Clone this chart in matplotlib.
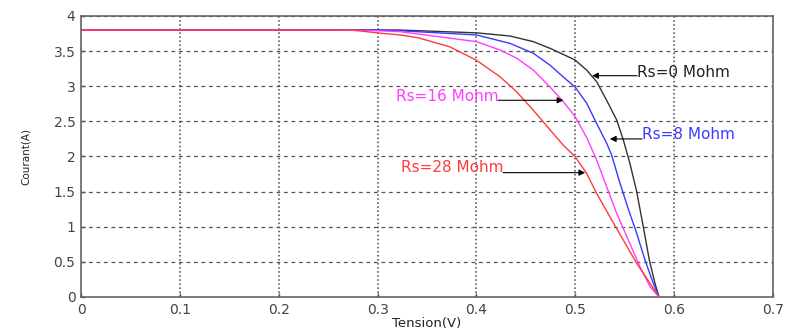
import matplotlib.pyplot as plt

# I-V curves (Tension in V, Courant in A)
v_rs0 = [0, 0.30, 0.3227, 0.40, 0.434, 0.4575, 0.4744, 0.4913, 0.4997, 0.5115, 0.5216,
         0.5317, 0.5419, 0.5486, 0.5553, 0.5621, 0.5688, 0.5749, 0.5806, 0.5847]
i_rs0 = [3.80, 3.80, 3.80, 3.76, 3.715, 3.635, 3.54, 3.43, 3.374, 3.23, 3.065,
         2.80, 2.52, 2.235, 1.90, 1.50, 1.00, 0.527, 0.195, 0.0]

v_rs8 = [0, 0.30, 0.3227, 0.40, 0.434, 0.4575, 0.4744, 0.4913, 0.4997, 0.5115, 0.5216,
         0.5317, 0.5368, 0.5452, 0.5537, 0.5621, 0.5705, 0.5789, 0.5847]
i_rs8 = [3.80, 3.80, 3.79, 3.73, 3.61, 3.47, 3.30, 3.09, 2.99, 2.76, 2.47,
         2.19, 2.02, 1.62, 1.25, 0.907, 0.527, 0.195, 0.0]

v_rs16 = [0, 0.25, 0.30, 0.3227, 0.40, 0.4238, 0.4407, 0.4575, 0.4744, 0.4879, 0.4997,
          0.5115, 0.5216, 0.5317, 0.5419, 0.5537, 0.5654, 0.5756, 0.5847]
i_rs16 = [3.80, 3.80, 3.79, 3.777, 3.635, 3.516, 3.40, 3.23, 2.99, 2.78, 2.57,
          2.27, 1.95, 1.57, 1.19, 0.81, 0.43, 0.147, 0.0]

v_rs28 = [0, 0.275, 0.299, 0.3227, 0.341, 0.3733, 0.40, 0.4238, 0.4407, 0.4575, 0.4744,
          0.4879, 0.4997, 0.5115, 0.5216, 0.5351, 0.5486, 0.5621, 0.5756, 0.5847]
i_rs28 = [3.80, 3.80, 3.76, 3.73, 3.69, 3.56, 3.37, 3.136, 2.92, 2.66, 2.38,
          2.16, 2.0, 1.76, 1.475, 1.14, 0.81, 0.48, 0.195, 0.0]

plt.rcParams['font.family'] = ['DejaVu Sans']

fig = plt.figure(figsize=(7.85, 3.29), dpi=100)
ax = fig.add_axes([0.1032, 0.0973, 0.8815, 0.8541])

ax.plot(v_rs0, i_rs0, color='#333333', lw=1.0)
ax.plot(v_rs8, i_rs8, color='#3a3aff', lw=1.0)
ax.plot(v_rs16, i_rs16, color='#ff3cff', lw=1.0)
ax.plot(v_rs28, i_rs28, color='#ff3b3b', lw=1.0)

ax.set_xlim(0, 0.7)
ax.set_ylim(0, 4)
ax.set_xticks([0, 0.1, 0.2, 0.3, 0.4, 0.5, 0.6, 0.7])
ax.set_xticklabels(['0', '0.1', '0.2', '0.3', '0.4', '0.5', '0.6', '0.7'])
ax.set_yticks([0, 0.5, 1, 1.5, 2, 2.5, 3, 3.5, 4])
ax.set_yticklabels(['0', '0.5', '1', '1.5', '2', '2.5', '3', '3.5', '4'])

# grid: dotted verticals, dashed horizontals
ax.xaxis.grid(True, linestyle=':', color='#444444', lw=1.1)
ax.yaxis.grid(True, linestyle='--', color='#555555', lw=0.9, dashes=(3, 3))
ax.set_axisbelow(True)

ax.tick_params(direction='in', length=3, width=1, colors='#555555',
               labelcolor='#444444', labelsize=10, top=False, right=False, pad=4)
for s in ax.spines.values():
    s.set_color('#666666')
    s.set_linewidth(1.2)

ax.set_xlabel('Tension(V)', fontsize=9.5, color='#222222', labelpad=0)
ax.set_ylabel('Courant(A)', fontsize=7.5, color='#222222', labelpad=16)

# labels with arrows
arrow = dict(arrowstyle='-|>', color='k', lw=0.8, mutation_scale=9, shrinkA=0, shrinkB=0)
ax.text(0.5624, 3.20, 'Rs=0 Mohm', color='#222222', fontsize=11, ha='left', va='center')
ax.annotate('', xy=(0.517, 3.15), xytext=(0.5624, 3.15), arrowprops=arrow)

ax.text(0.5675, 2.31, 'Rs=8 Mohm', color='#3a3aff', fontsize=11, ha='left', va='center')
ax.annotate('', xy=(0.535, 2.25), xytext=(0.5675, 2.25), arrowprops=arrow)

ax.text(0.422, 2.85, 'Rs=16 Mohm', color='#ff3cff', fontsize=11, ha='right', va='center')
ax.annotate('', xy=(0.488, 2.80), xytext=(0.422, 2.80), arrowprops=arrow)

ax.text(0.427, 1.85, 'Rs=28 Mohm', color='#ff3b3b', fontsize=11, ha='right', va='center')
ax.annotate('', xy=(0.510, 1.77), xytext=(0.427, 1.77), arrowprops=arrow)

fig.savefig('out.png', dpi=100)
